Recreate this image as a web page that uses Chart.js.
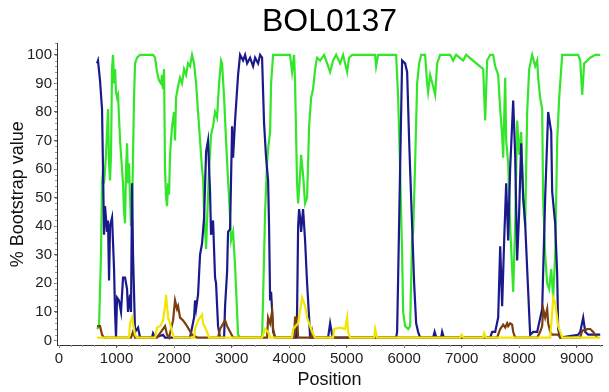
<!DOCTYPE html>
<html>
<head>
<meta charset="utf-8">
<script src="https://cdn.jsdelivr.net/npm/chart.js@4.4.1/dist/chart.umd.min.js"></script>
<style>
  html, body { margin: 0; padding: 0; background: #ffffff; }
  #wrap { width: 609px; height: 392px; }
</style>
</head>
<body>
<div id="wrap"><canvas id="c" width="609" height="392"></canvas></div>
<script>
// ---- data (position, % bootstrap) ----
const chartTitle = 'BOL0137';
const xTickValues = [0, 1000, 2000, 3000, 4000, 5000, 6000, 7000, 8000, 9000];
const yTickValues = [0, 10, 20, 30, 40, 50, 60, 70, 80, 90, 100];

const greenSeries = [[661,4],[696,5],[730,30],[748,55],[765,60],[783,55],[817,65],[852,81],[870,62],[887,56],[904,65],[922,95],[939,100],[957,90],[974,95],[991,87],[1009,85],[1026,86],[1061,70],[1096,60],[1113,55],[1130,45],[1148,41],[1165,60],[1183,69],[1200,55],[1217,62],[1235,50],[1252,40],[1270,45],[1304,85],[1322,97],[1357,99],[1409,100],[1496,100],[1583,100],[1635,100],[1670,99],[1704,94],[1739,91],[1774,90],[1791,93],[1809,88],[1826,95],[1843,60],[1861,50],[1878,47],[1896,55],[1913,51],[1930,65],[1965,75],[2000,80],[2017,70],[2035,85],[2070,89],[2104,92],[2139,90],[2174,95],[2209,93],[2243,97],[2278,96],[2313,100],[2348,97],[2383,90],[2417,80],[2452,70],[2487,60],[2504,57],[2522,45],[2557,32],[2574,42],[2609,60],[2643,72],[2678,75],[2713,80],[2748,78],[2783,90],[2817,98],[2835,97],[2870,85],[2904,70],[2939,56],[2957,50],[2991,35],[3026,38],[3061,26],[3096,10],[3113,2],[3148,1],[3530,1],[3548,15],[3583,45],[3617,62],[3635,67],[3670,73],[3687,90],[3722,100],[4017,100],[4052,94],[4087,100],[4104,90],[4139,55],[4157,48],[4191,58],[4209,65],[4243,58],[4278,48],[4313,50],[4348,75],[4383,85],[4417,88],[4452,95],[4487,99],[4539,98],[4609,100],[4661,97],[4713,94],[4765,98],[4817,100],[4887,97],[4939,100],[5009,94],[5043,99],[5096,100],[5496,100],[5513,96],[5548,100],[5861,100],[5896,85],[5930,60],[5965,30],[5983,10],[6017,5],[6070,4],[6104,5],[6139,36],[6157,38],[6191,62],[6226,90],[6261,97],[6296,100],[6365,100],[6400,90],[6417,87],[6452,93],[6504,89],[6539,86],[6574,97],[6626,100],[6800,100],[6852,98],[6904,100],[7026,98],[7078,100],[7374,95],[7409,77],[7443,98],[7496,100],[7548,100],[7583,96],[7635,93],[7670,81],[7704,72],[7722,64],[7757,92],[7774,70],[7809,62],[7843,40],[7878,25],[7896,17],[7930,40],[7965,77],[8000,65],[8035,73],[8070,50],[8104,40],[8139,80],[8174,95],[8226,100],[8278,96],[8313,98],[8330,92],[8365,85],[8400,81],[8417,49],[8452,30],[8487,20],[8522,18],[8557,25],[8591,15],[8626,30],[8661,70],[8696,85],[8748,100],[9026,100],[9061,98],[9096,86],[9130,97],[9183,98],[9235,99],[9322,100],[9409,100]];

const navySeries = [[661,97],[678,98],[713,91],[748,81],[765,60],[783,37],[800,47],[835,38],[852,42],[870,21],[887,40],[922,43],[957,25],[974,10],[991,1],[1009,15],[1043,14],[1078,10],[1113,22],[1148,22],[1183,18],[1200,10],[1235,16],[1252,10],[1270,55],[1287,30],[1322,3],[1374,4.5],[1409,1],[1617,1],[1635,2.5],[1670,1],[1809,2],[1843,1],[2278,1],[2348,8],[2365,14],[2383,11],[2417,16],[2452,30],[2487,34],[2522,43],[2557,66],[2591,70],[2626,52],[2643,37],[2678,42],[2713,22],[2730,20],[2765,5],[2800,1],[2870,1],[2887,12],[2922,24],[2939,38],[2974,39],[3009,75],[3026,64],[3061,77],[3113,93],[3148,100],[3200,98],[3235,100],[3270,97],[3322,99],[3374,96],[3409,99],[3461,97],[3496,100],[3530,99],[3565,76],[3600,64],[3635,56],[3652,40],[3670,14],[3687,17],[3704,11],[3722,3],[3757,1],[4122,1],[4139,10],[4157,40],[4174,46],[4191,43],[4209,38],[4226,42],[4243,46],[4278,35],[4313,20],[4348,8],[4365,1],[4678,1],[4713,6],[4748,2],[4783,1],[5861,1],[5878,3],[5896,22],[5930,60],[5965,98],[6017,97],[6052,94],[6087,70],[6104,60],[6139,40],[6174,20],[6209,6],[6243,3],[6278,1],[6504,1],[6530,3],[6560,1],[6643,1],[6661,3],[6690,1],[7496,1],[7530,3],[7583,3],[7635,8],[7670,33],[7704,12],[7739,35],[7774,55],[7809,35],[7843,60],[7896,84],[7930,65],[7965,28],[8000,45],[8035,69],[8070,50],[8104,41],[8139,25],[8191,2],[8243,3],[8313,3],[8400,11],[8452,50],[8504,80],[8557,73],[8574,52],[8626,41],[8661,23],[8678,4],[8713,1],[9026,2],[9061,3],[9113,8],[9148,3],[9200,2],[9409,2]];

const brownSeries = [[661,5],[713,5],[748,2],[783,1],[1252,1],[1287,3],[1322,1],[1704,1],[1739,2],[1843,5],[1878,2],[1913,1],[1983,7],[2017,14],[2052,11],[2070,12],[2104,8],[2157,7],[2226,5],[2313,2],[2400,1],[2765,1],[2800,4],[2887,7],[2922,5],[2974,3],[3026,1],[3148,1],[3617,1],[3635,8],[3670,6],[3704,10],[3722,4],[3757,1],[4087,1],[4104,8],[4139,8],[4157,1],[4383,1],[4400,3],[4417,1],[7617,1],[7670,4],[7722,5.5],[7757,4.5],[7791,6],[7809,5],[7843,6],[7878,5.5],[7896,3],[7930,1],[8313,1],[8365,3],[8400,5],[8417,11],[8452,8],[8487,11],[8504,6],[8539,3],[8574,2],[8678,2],[8713,1],[9061,1],[9096,3.5],[9148,3.5],[9183,4],[9235,4],[9287,3],[9322,2],[9350,1]];

const yellowSeries = [[661,1],[1217,1],[1235,6],[1270,8],[1287,6],[1322,2],[1357,1],[1670,1],[1704,4.5],[1757,5],[1809,7],[1843,12],[1861,16],[1896,8],[1930,6],[1965,3],[2000,1],[2348,1],[2365,4],[2417,7],[2487,9],[2504,6],[2574,3],[2609,1],[3530,1],[3583,4],[3635,3],[3670,1],[4052,1],[4070,4],[4157,6],[4226,15],[4243,14],[4278,12],[4313,8],[4365,5],[4400,3],[4450,1],[4765,1],[4783,4],[4887,4.5],[4974,4],[5009,8],[5026,3],[5060,1],[5480,1],[5496,4],[5530,1],[6974,1],[7000,2],[7030,1],[7374,1],[7390,2.5],[7420,1],[8539,1],[8574,10],[8591,15],[8626,13],[8661,8],[8678,5],[8713,3],[8750,1],[9409,1]];

// ---- chart ----
const FONT = "'Liberation Sans', Arial, sans-serif";
const toPts = s => s.map(p => ({ x: p[0], y: p[1] }));
const plainLabel = v => String(v);

const minorTicks = {
  id: 'minorTicks',
  afterDraw(chart) {
    const { ctx, chartArea: a, scales: { x, y } } = chart;
    ctx.save();
    ctx.strokeStyle = '#999';
    ctx.lineWidth = 1;
    ctx.beginPath();
    for (let v = 0; v <= x.max; v += 200) {
      const px = Math.round(x.getPixelForValue(v)) + 0.5;
      ctx.moveTo(px, a.bottom); ctx.lineTo(px, a.bottom + 2);
    }
    for (let v = 0; v <= y.max; v += 2) {
      const py = Math.round(y.getPixelForValue(v)) + 0.5;
      ctx.moveTo(a.left, py); ctx.lineTo(a.left - 2, py);
    }
    ctx.stroke();
    ctx.restore();
  }
};

new Chart(document.getElementById('c'), {
  type: 'line',
  data: {
    datasets: [
      { label: 'yellow', data: toPts(yellowSeries), borderColor: '#f2e600', order: 1 },
      { label: 'brown', data: toPts(brownSeries), borderColor: '#7b3f0c', order: 2 },
      { label: 'navy', data: toPts(navySeries), borderColor: '#1a1a8c', order: 3 },
      { label: 'green', data: toPts(greenSeries), borderColor: '#33e62a', order: 4 }
    ]
  },
  options: {
    responsive: false,
    animation: false,
    layout: { padding: { left: 0, right: 7, top: 0, bottom: 0 } },
    elements: {
      point: { radius: 0 },
      line: { tension: 0, borderWidth: 2.2, fill: false }
    },
    plugins: {
      legend: { display: false },
      tooltip: { enabled: false },
      title: {
        display: true, text: chartTitle, fullSize: false, color: '#000',
        font: { family: FONT, size: 32, weight: 'normal' },
        padding: { top: 3, bottom: 2 }
      }
    },
    scales: {
      x: {
        type: 'linear', min: -35, max: 9440,
        afterBuildTicks: s => { s.ticks = xTickValues.map(v => ({ value: v })); },
        afterFit: s => { s.height = 47; },
        ticks: { font: { family: FONT, size: 15 }, color: '#222', padding: 2, maxRotation: 0, autoSkip: false, callback: plainLabel },
        grid: { display: true, drawOnChartArea: false, tickLength: 3, color: '#666' },
        border: { display: true, color: '#333', width: 1 },
        title: { display: true, text: 'Position', color: '#111', font: { family: FONT, size: 18 }, padding: { top: 0, bottom: 1 } }
      },
      y: {
        type: 'linear', min: -1.6, max: 104,
        afterBuildTicks: s => { s.ticks = yTickValues.map(v => ({ value: v })); },
        afterFit: s => { s.width = 57; },
        ticks: { font: { family: FONT, size: 15 }, color: '#222', padding: 2, callback: plainLabel },
        grid: { display: true, drawOnChartArea: false, tickLength: 3, color: '#666' },
        border: { display: true, color: '#333', width: 1 },
        title: { display: true, text: '% Bootstrap value', color: '#111', font: { family: FONT, size: 18 }, padding: { top: 7, bottom: 0 } }
      }
    }
  },
  plugins: [minorTicks]
});
</script>
</body>
</html>
